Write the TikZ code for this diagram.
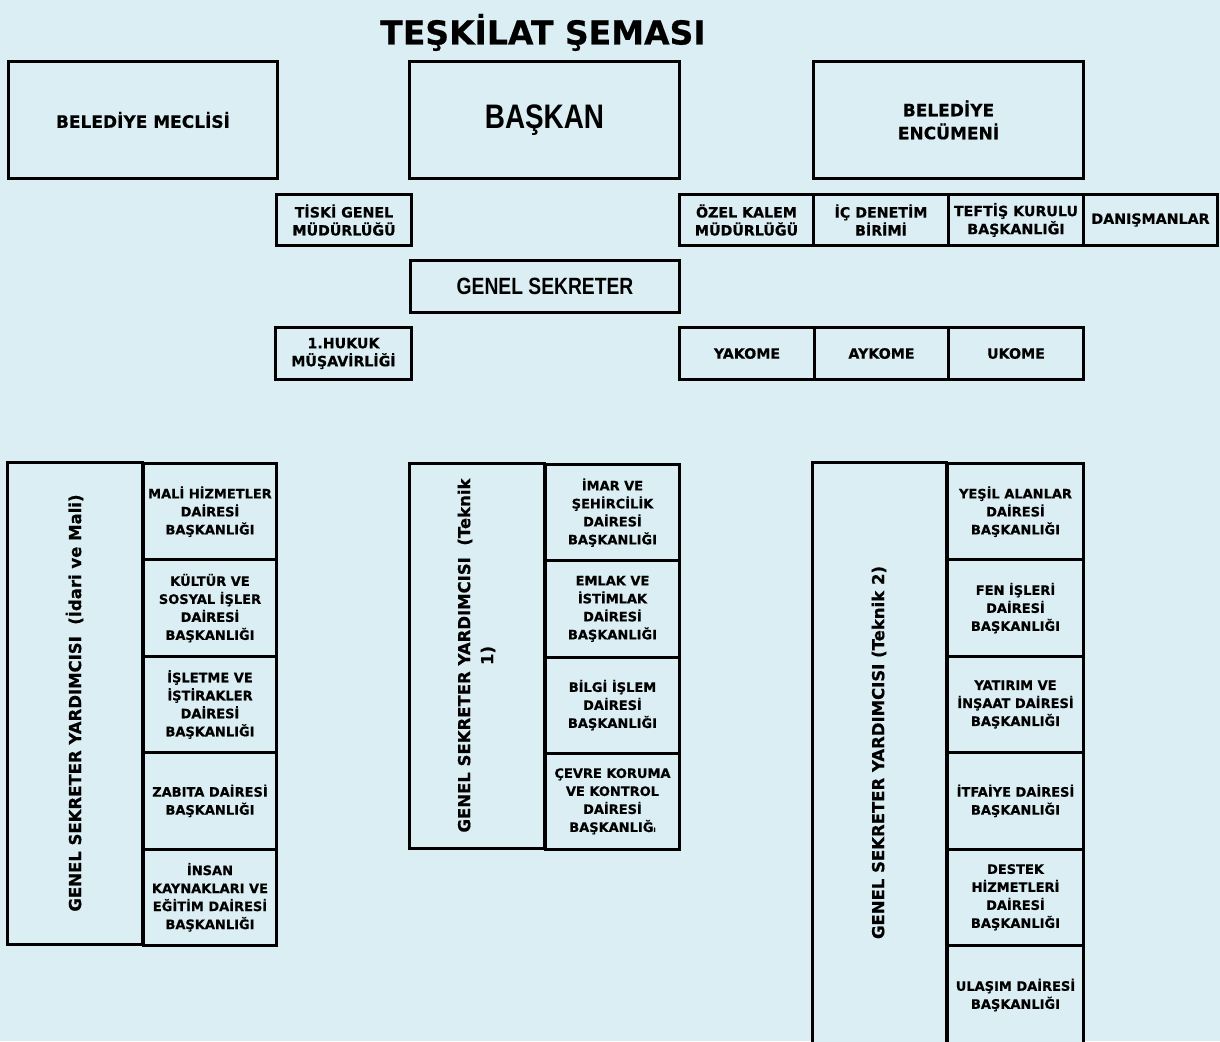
\documentclass[tikz,border=0pt]{standalone}
\usepackage{fontspec}
\setmainfont{DejaVu Sans}[BoldFeatures={FakeBold=0.5}]
\newfontfamily\narrowfont[FakeStretch=0.82]{Liberation Sans}
\definecolor{bgblue}{RGB}{218,238,243}

\tikzset{
  box/.style={draw, line width=3pt, fill=bgblue, inner sep=0pt, align=center, anchor=north west},
  bigbox/.style={box, minimum width=270pt, minimum height=117pt, font=\bfseries\fontsize{17}{23}\selectfont},
  smallbox/.style={box, minimum width=135pt, minimum height=51pt, font=\bfseries\fontsize{14.2}{18}\selectfont},
  cell/.style={box, minimum width=134pt, minimum height=96.4pt, font=\bfseries\fontsize{13}{18}\selectfont},
  sidebox/.style={draw, line width=3pt, fill=bgblue, inner sep=0pt, align=center, rotate=90, font=\bfseries\fontsize{16.5}{23}\selectfont},
}

\begin{document}
\begin{tikzpicture}[x=1pt, y=-1pt]
    \useasboundingbox[fill=bgblue] (0,0) rectangle (1220,1041);
    \clip (0,0) rectangle (1220,1041);

    % Title
    \node[anchor=base, font=\bfseries\fontsize{33}{40}\selectfont] (title) at (543,44.5) {TEŞKİLAT ŞEMASI};

    % Top row
    \node[bigbox, minimum width=269pt] (meclis) at (7,60) {BELEDİYE MECLİSİ};
    \node[bigbox, font=\narrowfont\bfseries\fontsize{34}{40}\selectfont] (baskan) at (408,60) {BAŞKAN};
    \node[bigbox] (encumen) at (812,60) {BELEDİYE\\ENCÜMENİ};

    % Units tied to the mayor
    \node[smallbox] (tiski) at (275,193) {TİSKİ GENEL\\MÜDÜRLÜĞÜ};
    \node[smallbox, minimum width=134pt] (ozelkalem) at (678,193) {ÖZEL KALEM\\MÜDÜRLÜĞÜ};
    \node[smallbox] (icdenetim) at (812,193) {İÇ DENETİM\\BİRİMİ};
    \node[smallbox] (teftis) at (947,193) {TEFTİŞ KURULU\\BAŞKANLIĞI};
    \node[smallbox, minimum width=134pt] (danisman) at (1082,193) {DANIŞMANLAR};

    \node[box, minimum width=269pt, minimum height=52pt, font=\narrowfont\bfseries\fontsize{23.5}{28}\selectfont] (gensek) at (409,259) {GENEL SEKRETER};

    \node[smallbox, minimum width=136pt, minimum height=52pt] (hukuk) at (274,326) {1.HUKUK\\MÜŞAVİRLİĞİ};
    \node[smallbox, minimum height=52pt] (yakome) at (678,326) {YAKOME};
    \node[smallbox, minimum width=134pt, minimum height=52pt] (aykome) at (813,326) {AYKOME};
    \node[smallbox, minimum height=52pt] (ukome) at (947,326) {UKOME};

    % Deputy secretary generals (left)
    \node[sidebox, minimum width=482pt, minimum height=135pt] (gsyidari) at (74.5,703) {GENEL SEKRETER YARDIMCISI\ \ (İdari ve Mali)};
    \node[cell, minimum width=133pt] (mali) at (142,462) {MALİ HİZMETLER\\DAİRESİ\\BAŞKANLIĞI};
    \node[cell, minimum width=133pt] (kultur) at (142,558.4) {KÜLTÜR VE\\SOSYAL İŞLER\\DAİRESİ\\BAŞKANLIĞI};
    \node[cell, minimum width=133pt] (isletme) at (142,654.8) {İŞLETME VE\\İŞTİRAKLER\\DAİRESİ\\BAŞKANLIĞI};
    \node[cell, minimum width=133pt] (zabita) at (142,751.2) {ZABITA DAİRESİ\\BAŞKANLIĞI};
    \node[cell, minimum width=133pt] (insan) at (142,847.6) {İNSAN\\KAYNAKLARI VE\\EĞİTİM DAİRESİ\\BAŞKANLIĞI};

    % middle
    \node[sidebox, minimum width=385pt, minimum height=135pt] (gsyteknik1) at (476.5,655.5) {GENEL SEKRETER YARDIMCISI\ \ (Teknik\\1)};
    \node[cell, minimum height=96.25pt] (imar) at (544,463) {İMAR VE\\ŞEHİRCİLİK\\DAİRESİ\\BAŞKANLIĞI};
    \node[cell, minimum height=96.25pt] (emlak) at (544,559.25) {EMLAK VE\\İSTİMLAK\\DAİRESİ\\BAŞKANLIĞI};
    \node[cell, minimum height=96.25pt] (bilgi) at (544,655.5) {BİLGİ İŞLEM\\DAİRESİ\\BAŞKANLIĞI};
    \node[cell, minimum height=96.25pt] (cevre) at (544,751.75) {ÇEVRE KORUMA\\VE KONTROL\\DAİRESİ\\BAŞKANLIĞ{\fontsize{6}{6}\selectfont I}};

    % right (runs off the bottom edge)
    \node[sidebox, minimum width=581pt, minimum height=134pt] (gsyteknik2) at (879,752.5) {GENEL SEKRETER YARDIMCISI (Teknik 2)};
    \node[cell, minimum width=136pt] (yesil) at (946,462) {YEŞİL ALANLAR\\DAİRESİ\\BAŞKANLIĞI};
    \node[cell, minimum width=136pt] (fen) at (946,558.4) {FEN İŞLERİ\\DAİRESİ\\BAŞKANLIĞI};
    \node[cell, minimum width=136pt] (yatirim) at (946,654.8) {YATIRIM VE\\İNŞAAT DAİRESİ\\BAŞKANLIĞI};
    \node[cell, minimum width=136pt] (itfaiye) at (946,751.2) {İTFAİYE DAİRESİ\\BAŞKANLIĞI};
    \node[cell, minimum width=136pt] (destek) at (946,847.6) {DESTEK\\HİZMETLERİ\\DAİRESİ\\BAŞKANLIĞI};
    \node[cell, minimum width=136pt, minimum height=99pt] (ulasim) at (946,944) {ULAŞIM DAİRESİ\\BAŞKANLIĞI};
\end{tikzpicture}
\end{document}
